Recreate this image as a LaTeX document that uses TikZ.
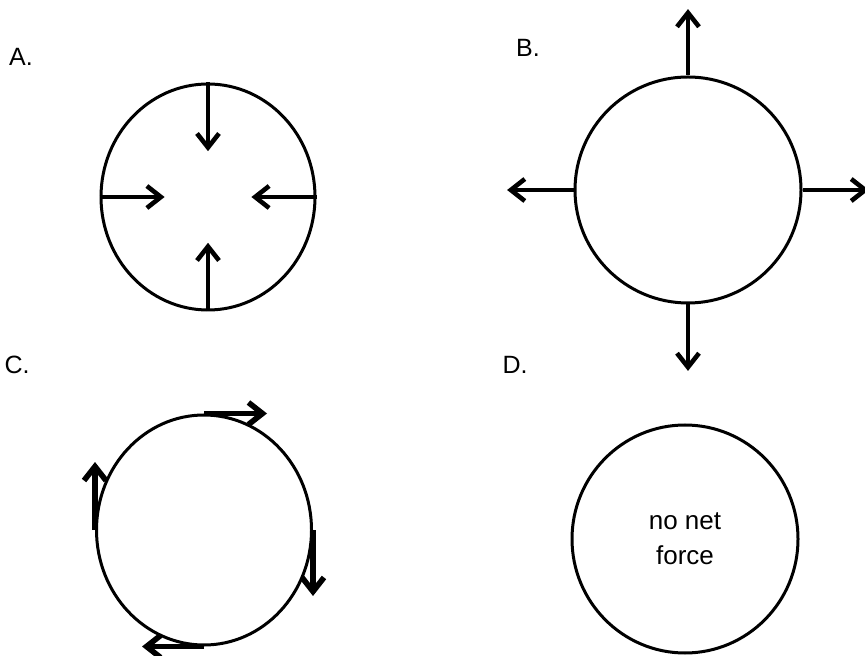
\documentclass[tikz,border=0pt]{standalone}
\usepackage{fontspec}
\setmainfont{Liberation Sans}
\usetikzlibrary{arrows.meta,shapes.geometric,calc}
\tikzset{
  ball/.style={ellipse, draw, line width=1.5pt, inner sep=0pt},
  force/.style={-{Straight Barb[length=7pt,width=11pt]}, line width=2.3pt},
  spin/.style={force, line width=2.8pt},
  panel/.style={font=\fontsize{12.5}{15}\selectfont, inner sep=0pt}
}
\begin{document}
\begin{tikzpicture}[x=0.5pt, y=-0.5pt]
\useasboundingbox (0,0) rectangle (865,656);
% panel letters
\node[panel] (labA) at (21,57) {A.};
\node[panel] (labB) at (528,48) {B.};
\node[panel] (labC) at (17,365) {C.};
\node[panel] (labD) at (515,365) {D.};

% the four bodies
\node[ball, minimum width=107pt, minimum height=113pt] (ballA) at (208,197) {};
\node[ball, minimum width=113pt, minimum height=113pt] (ballB) at (688,190) {};
\node[ball, minimum width=107.5pt, minimum height=115pt] (ballC) at (204,530) {};
\node[ball, minimum width=113pt, minimum height=114pt, align=center,
  font=\fontsize{13}{17.5}\selectfont] (ballD) at (685,539) {no net\\force};

% A: pushed inward
\foreach \a in {north,south,east,west}
  \draw[force] (ballA.\a) -- ($(ballA.\a)!0.6!(ballA.center)$);

% B: pulled outward
\foreach \a in {north,south,east,west}
  \draw[force] (ballB.\a) -- ($(ballB.\a)!-0.58!(ballB.center)$);

% C: tangential, clockwise
\foreach \a/\dx/\dy in {north/63/0, east/0/66, south/-62/0, west/0/-68}
  \draw[spin] (ballC.\a) -- ++(\dx,\dy);
\end{tikzpicture}
\end{document}
